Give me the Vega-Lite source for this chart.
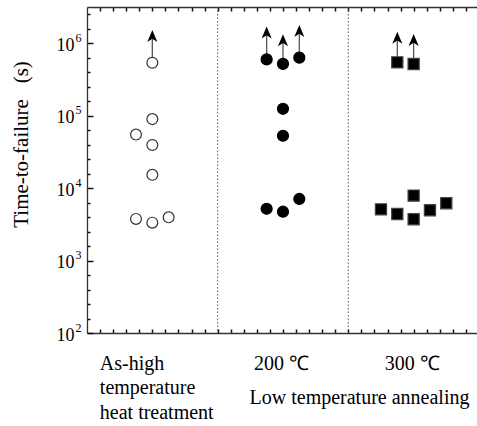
{
  "$schema": "https://vega.github.io/schema/vega-lite/v6.json",
  "width": 390,
  "height": 326,
  "autosize": {"type": "none"},
  "padding": {"left": 87, "top": 7, "right": 0, "bottom": 93},
  "background": "white",
  "config": {
    "view": {"stroke": null},
    "axis": {"labelFont": "Liberation Serif", "titleFont": "Liberation Serif", "domainColor": "#333333", "labelColor": "black", "titleColor": "black", "grid": false, "labelFlush": false, "labelOverlap": false, "titleFontWeight": "normal"}
  },
  "datasets": {
    "dividers": [{"x": 1}, {"x": 2}],
    "arrows": [
      {"x": 0.5, "from": 540000, "to": 1240000},
      {"x": 1.375, "from": 600000, "to": 1380000},
      {"x": 1.5, "from": 520000, "to": 1080000},
      {"x": 1.625, "from": 635000, "to": 1450000},
      {"x": 2.375, "from": 547000, "to": 1170000},
      {"x": 2.5, "from": 520000, "to": 1090000}
    ],
    "points": [
      {"x": 0.5, "t": 540000, "group": "As-high"},
      {"x": 0.5, "t": 90000, "group": "As-high"},
      {"x": 0.375, "t": 55000, "group": "As-high"},
      {"x": 0.5, "t": 39500, "group": "As-high"},
      {"x": 0.5, "t": 15300, "group": "As-high"},
      {"x": 0.375, "t": 3760, "group": "As-high"},
      {"x": 0.5, "t": 3340, "group": "As-high"},
      {"x": 0.625, "t": 3960, "group": "As-high"},
      {"x": 1.375, "t": 600000, "group": "200"},
      {"x": 1.5, "t": 520000, "group": "200"},
      {"x": 1.625, "t": 635000, "group": "200"},
      {"x": 1.5, "t": 125000, "group": "200"},
      {"x": 1.5, "t": 53000, "group": "200"},
      {"x": 1.375, "t": 5200, "group": "200"},
      {"x": 1.5, "t": 4730, "group": "200"},
      {"x": 1.625, "t": 7100, "group": "200"},
      {"x": 2.375, "t": 547000, "group": "300"},
      {"x": 2.5, "t": 520000, "group": "300"},
      {"x": 2.25, "t": 5100, "group": "300"},
      {"x": 2.375, "t": 4400, "group": "300"},
      {"x": 2.5, "t": 7900, "group": "300"},
      {"x": 2.5, "t": 3720, "group": "300"},
      {"x": 2.625, "t": 4950, "group": "300"},
      {"x": 2.75, "t": 6200, "group": "300"}
    ]
  },
  "layer": [
    {
      "data": {"name": "dividers"},
      "mark": {"type": "rule", "color": "#555555", "strokeWidth": 1, "strokeDash": [1.5, 2]},
      "encoding": {
        "x": {"field": "x", "type": "quantitative", "scale": {"domain": [0, 2.985], "nice": false, "zero": false},
          "axis": {"orient": "bottom", "values": [0.1,0.2,0.3,0.4,0.5,0.6,0.7,0.8,0.9,1.0,1.1,1.2,1.3,1.4,1.5,1.6,1.7,1.8,1.9,2.0,2.1,2.2,2.3,2.4,2.5,2.6,2.7,2.8,2.9], "labels": false, "ticks": true, "tickSize": -4, "tickColor": "#111111", "tickWidth": 1.5, "domain": true, "domainWidth": 1.3, "title": null}}
      }
    },
    {
      "data": {"name": "arrows"},
      "mark": {"type": "rule", "color": "#555555", "strokeWidth": 1.3},
      "encoding": {
        "x": {"field": "x", "type": "quantitative", "scale": {"domain": [0, 2.985], "nice": false, "zero": false},
          "axis": {"orient": "top", "values": [0.1,0.2,0.3,0.4,0.5,0.6,0.7,0.8,0.9,1.0,1.1,1.2,1.3,1.4,1.5,1.6,1.7,1.8,1.9,2.0,2.1,2.2,2.3,2.4,2.5,2.6,2.7,2.8,2.9], "labels": false, "ticks": true, "tickSize": -4, "tickColor": "#111111", "tickWidth": 1.5, "domain": true, "domainWidth": 1.3, "title": null}},
        "y": {"field": "from", "type": "quantitative", "scale": {"type": "log", "domain": [100, 3180000], "nice": false},
          "axis": {"orient": "left", "values": [100, 1000, 10000, 100000, 1000000], "labels": false, "ticks": true, "tickSize": -6, "tickColor": "#111111", "tickWidth": 1.5, "domain": true, "domainWidth": 1.3,
            "title": "Time-to-failure\u00a0\u00a0\u00a0(s)", "titleFontSize": 21, "titleAngle": -90, "titleX": -66, "titleY": 137, "titleAlign": "center", "titleBaseline": "middle"}},
        "y2": {"field": "to"}
      }
    },
    {
      "data": {"name": "arrows"},
      "mark": {"type": "point", "shape": "M0,-1L0.75,0.8L0,0.3L-0.75,0.8Z", "filled": true, "color": "black", "opacity": 1, "size": 180},
      "encoding": {
        "x": {"field": "x", "type": "quantitative", "scale": {"domain": [0, 2.985], "nice": false, "zero": false},
          "axis": {"orient": "bottom", "values": [0.5, 1.5, 2.5], "ticks": false, "domain": false,
            "labelExpr": "datum.value < 1 ? ['As-high', 'temperature', 'heat treatment'] : (datum.value < 2 ? '200 \u2103' : '300 \u2103')",
            "labelFontSize": 20, "labelLineHeight": 24.5, "labelBaseline": "alphabetic", "labelPadding": 36,
            "labelAlign": {"condition": {"test": "datum.value < 1", "value": "left"}, "value": "center"},
            "labelOffset": {"condition": {"test": "datum.value < 1", "value": -53}, "value": -2},
            "title": "Low temperature annealing", "titleFontSize": 20, "titleX": 272, "titleY": 70, "titleAnchor": null, "titleAlign": "center", "titleBaseline": "alphabetic"}},
        "y": {"field": "to", "type": "quantitative", "scale": {"type": "log", "domain": [100, 3180000], "nice": false},
          "axis": {"orient": "left", "values": [158.489, 251.189, 398.107, 630.957, 1584.89, 2511.89, 3981.07, 6309.57, 15848.9, 25118.9, 39810.7, 63095.7, 158489, 251189, 398107, 630957, 1584893, 2511886], "labels": false, "ticks": true, "tickSize": -3, "tickColor": "#111111", "tickWidth": 1.5, "domain": false, "title": null}}
      }
    },
    {
      "data": {"name": "points"},
      "mark": {"type": "point", "opacity": 1, "strokeWidth": 1.2},
      "encoding": {
        "x": {"field": "x", "type": "quantitative", "scale": {"domain": [0, 2.985], "nice": false, "zero": false}, "axis": null},
        "y": {"field": "t", "type": "quantitative", "scale": {"type": "log", "domain": [100, 3180000], "nice": false},
          "axis": {"orient": "left", "values": [100, 1000, 10000, 100000, 1000000], "ticks": false, "domain": false, "labelExpr": "'10'", "labelFontSize": 18, "labelAlign": "right", "labelBaseline": "middle", "labelPadding": 13, "labelOffset": 2, "title": null}},
        "shape": {"field": "group", "type": "nominal", "scale": {"domain": ["As-high", "200", "300"], "range": ["circle", "circle", "square"]}, "legend": null},
        "fill": {"field": "group", "type": "nominal", "scale": {"domain": ["As-high", "200", "300"], "range": ["white", "black", "black"]}, "legend": null},
        "stroke": {"field": "group", "type": "nominal", "scale": {"domain": ["As-high", "200", "300"], "range": ["#333333", "black", "#444444"]}, "legend": null},
        "size": {"field": "group", "type": "nominal", "scale": {"domain": ["As-high", "200", "300"], "range": [118, 125, 185]}, "legend": null}
      }
    },
    {
      "data": {"name": "arrows"},
      "mark": {"type": "point", "opacity": 0},
      "encoding": {
        "x": {"field": "x", "type": "quantitative", "scale": {"domain": [0, 2.985], "nice": false, "zero": false}, "axis": null},
        "y": {"field": "from", "type": "quantitative", "scale": {"type": "log", "domain": [100, 3180000], "nice": false},
          "axis": {"orient": "left", "values": [100, 1000, 10000, 100000, 1000000], "ticks": false, "domain": false, "labelExpr": "format(log(datum.value)/log(10), '.0f')", "labelFontSize": 12, "labelAlign": "left", "labelBaseline": "middle", "labelPadding": 12, "labelOffset": -6, "title": null}}
      }
    }
  ],
  "resolve": {"axis": {"x": "independent", "y": "independent"}}
}
